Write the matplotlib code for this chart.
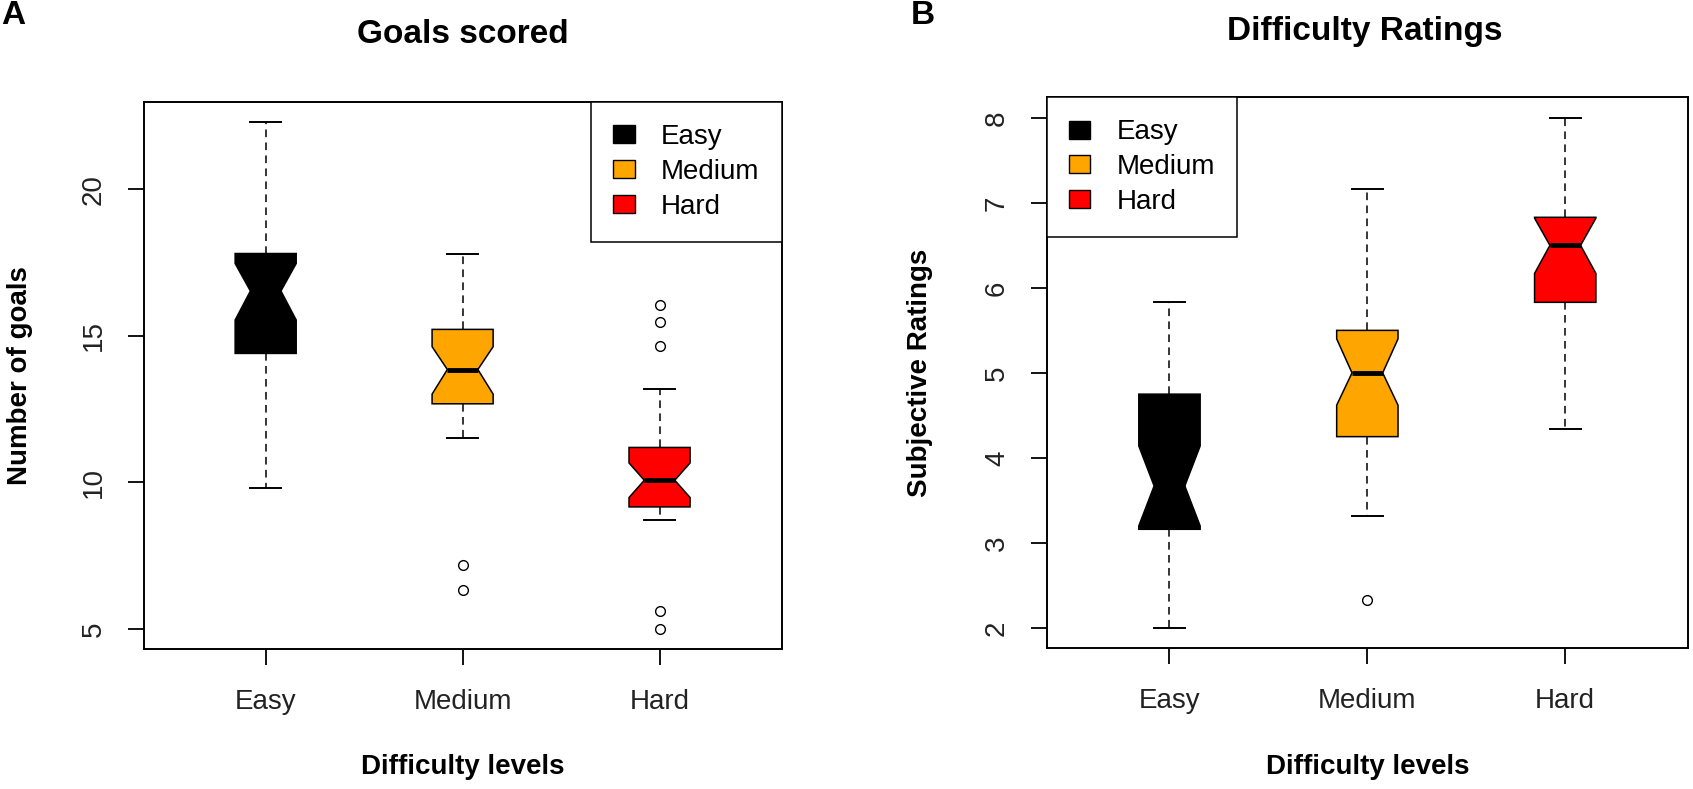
import matplotlib
matplotlib.use("Agg")
import matplotlib.pyplot as plt
from matplotlib.patches import Patch

plt.rcParams['font.family'] = ['Liberation Sans', 'DejaVu Sans']

# ---- data ----
levels = ['Easy', 'Medium', 'Hard']
box_colors = ['black', '#FFA500', '#FF0000']

# Panel A: goals scored
goals_whislo = [9.82, 11.50, 8.70]
goals_q1 = [14.40, 12.68, 9.16]
goals_med = [16.53, 13.85, 10.07]
goals_q3 = [17.81, 15.22, 11.19]
goals_whishi = [22.29, 17.81, 13.17]
goals_cilo = [15.54, 13.01, 9.48]
goals_cihi = [17.47, 14.63, 10.66]
goals_fliers = [[], [7.16, 6.34], [16.05, 15.48, 14.65, 5.61, 5.00]]

# Panel B: difficulty ratings
rating_whislo = [2.00, 3.32, 4.34]
rating_q1 = [3.16, 4.25, 5.83]
rating_med = [3.67, 5.00, 6.50]
rating_q3 = [4.75, 5.50, 6.83]
rating_whishi = [5.83, 7.16, 8.00]
rating_cilo = [3.20, 4.62, 6.17]
rating_cihi = [4.14, 5.40, 6.82]
rating_fliers = [[], [2.33], []]


def make_stats(whislo, q1, med, q3, whishi, cilo, cihi, fliers):
    stats = []
    for i in range(len(levels)):
        stats.append(dict(label=levels[i], whislo=whislo[i], q1=q1[i], med=med[i],
                          q3=q3[i], whishi=whishi[i], cilo=cilo[i], cihi=cihi[i],
                          fliers=fliers[i]))
    return stats


def draw_panel(ax, stats, title, ylabel, yticks, legend_loc, title_xy, ylabel_x):
    pos = [1, 2, 3]
    bp = ax.bxp(stats, positions=pos, widths=0.31, shownotches=True, patch_artist=True,
                boxprops=dict(edgecolor='black', linewidth=1.1),
                whiskerprops=dict(color='black', linewidth=1.1, linestyle=(0, (5, 3.5))),
                capprops=dict(color='black', linewidth=1.4),
                medianprops=dict(color='black', linewidth=3.5, solid_capstyle='butt'),
                flierprops=dict(marker='o', markerfacecolor='none', markeredgecolor='black',
                                markersize=7, markeredgewidth=1.0))
    for patch, c in zip(bp['boxes'], box_colors):
        patch.set_facecolor(c)

    # R style axis extension (4 %)
    lo = min(min(s['whislo'] for s in stats), min(min(s['fliers'], default=99) for s in stats))
    hi = max(max(s['whishi'] for s in stats), max(max(s['fliers'], default=-99) for s in stats))
    ext = 0.04 * (hi - lo)
    ax.set_ylim(lo - ext, hi + ext)
    ax.set_xlim(0.5 - 0.04 * 3, 3.5 + 0.04 * 3)

    ax.set_yticks(yticks)
    ax.set_yticklabels([str(t) for t in yticks], rotation=90, va='center', fontsize=20,
                       color='#222222')
    ax.set_xticks(pos)
    ax.set_xticklabels(levels, fontsize=20, color='#222222')
    ax.tick_params(axis='both', direction='out', length=11.5, width=1.3)
    ax.tick_params(axis='y', pad=15)
    ax.tick_params(axis='x', pad=17)
    for sp in ax.spines.values():
        sp.set_linewidth(1.4)

    ax.set_xlabel('Difficulty levels', fontsize=20, fontweight='bold', va='center')
    ax.xaxis.set_label_coords(0.5, -0.215)
    ax.set_ylabel(ylabel, fontsize=20, fontweight='bold', va='center')
    ax.yaxis.set_label_coords(ylabel_x, 0.5)
    ax.text(title_xy[0], title_xy[1], title, transform=ax.transAxes, ha='center',
            va='center', fontsize=24, fontweight='bold')

    handles = [Patch(facecolor=c, edgecolor='black', linewidth=1.0) for c in box_colors]
    leg = ax.legend(handles, levels, loc=legend_loc, fontsize=20, borderaxespad=0,
                    fancybox=False, edgecolor='black', framealpha=1, borderpad=0.79,
                    labelspacing=0.32, handlelength=0.78, handleheight=0.62,
                    handletextpad=0.95)
    leg.get_frame().set_linewidth(1.1)


fig = plt.figure(figsize=(16.93, 7.89), dpi=100)
ax1 = fig.add_axes([0.0848, 0.1774, 0.3769, 0.6933])
ax2 = fig.add_axes([0.6183, 0.1783, 0.3787, 0.6982])

draw_panel(ax1, make_stats(goals_whislo, goals_q1, goals_med, goals_q3, goals_whishi,
                           goals_cilo, goals_cihi, goals_fliers),
           'Goals scored', 'Number of goals', [5, 10, 15, 20], 'upper right',
           (0.5005, 1.124), -0.194)
draw_panel(ax2, make_stats(rating_whislo, rating_q1, rating_med, rating_q3, rating_whishi,
                           rating_cilo, rating_cihi, rating_fliers),
           'Difficulty Ratings', 'Subjective Ratings', [2, 3, 4, 5, 6, 7, 8], 'upper left',
           (0.496, 1.1205), -0.198)

fig.text(13.5 / 1693, 1 - 15 / 789, 'A', ha='center', va='center', fontsize=24,
         fontweight='bold')
fig.text(923 / 1693, 1 - 16 / 789, 'B', ha='center', va='center', fontsize=24,
         fontweight='bold')

fig.savefig('out.png', dpi=100)
